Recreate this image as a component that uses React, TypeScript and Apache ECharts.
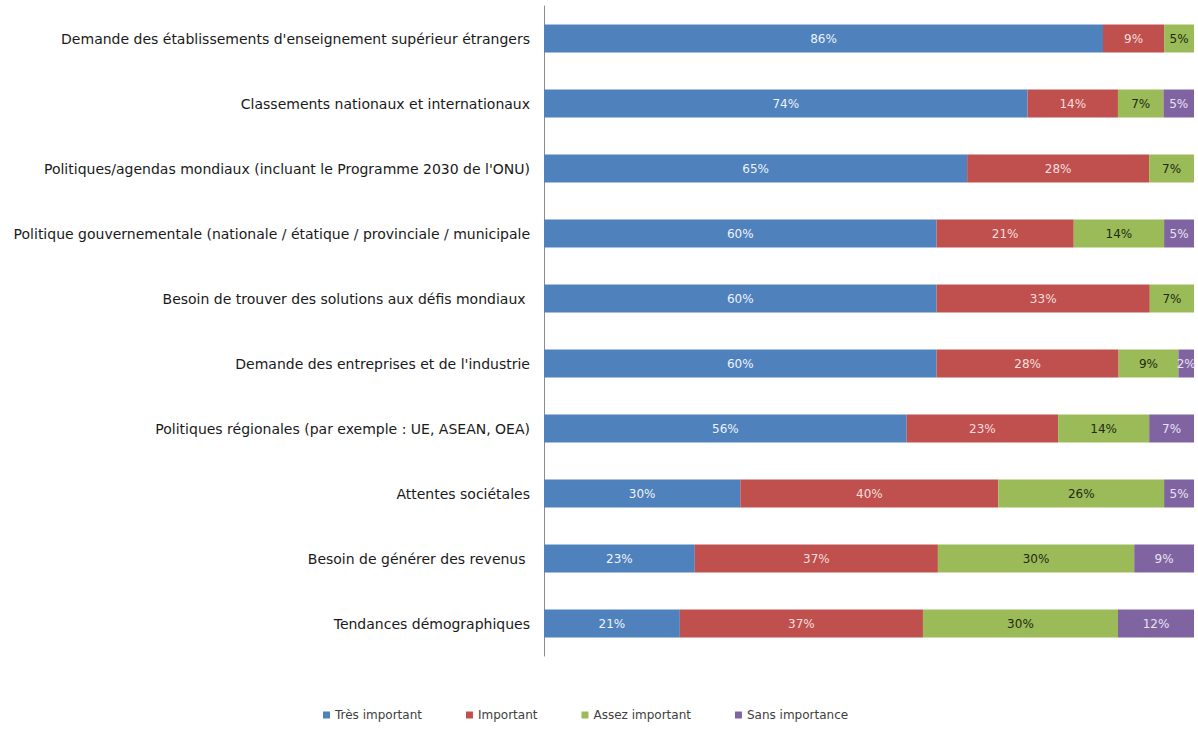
import React, { useEffect, useRef } from "react";
import * as echarts from "echarts";

const categories = [
  "Demande des établissements d'enseignement supérieur étrangers",
  "Classements nationaux et internationaux",
  "Politiques/agendas mondiaux (incluant le Programme 2030 de l'ONU)",
  "Politique gouvernementale (nationale / étatique / provinciale / municipale",
  "Besoin de trouver des solutions aux défis mondiaux ",
  "Demande des entreprises et de l'industrie",
  "Politiques régionales (par exemple : UE, ASEAN, OEA)",
  "Attentes sociétales",
  "Besoin de générer des revenus ",
  "Tendances démographiques",
];

const tresImportant = [86.0, 74.4, 65.1, 60.4, 60.4, 60.4, 55.8, 30.2, 23.2, 20.9];
const important = [9.4, 13.9, 28.0, 21.1, 32.8, 28.0, 23.3, 39.7, 37.4, 37.4];
const assezImportant = [4.6, 7.0, 6.9, 13.9, 6.8, 9.2, 14.0, 25.5, 30.2, 30.0];
const sansImportance = [0, 4.7, 0, 4.6, 0, 2.4, 6.9, 4.6, 9.2, 11.7];

const seriesNames = ["Très important", "Important", "Assez important", "Sans importance"];
const seriesColors = ["#4F81BD", "#C0504D", "#9BBB59", "#8064A2"];
const labelColors = ["#eef3fb", "#f6dede", "#1f2a10", "#e8e2f2"];

export default function App() {
  const ref = useRef<HTMLDivElement>(null);
  useEffect(() => {
    if (!ref.current) return;
    const chart = echarts.init(ref.current, undefined, { renderer: "svg" });
    const datas = [tresImportant, important, assezImportant, sansImportance];
    chart.setOption({
      animation: false,
      backgroundColor: "#ffffff",
      grid: { left: 544, right: 4, top: 6, height: 650, containLabel: false },
      legend: {
        bottom: 6,
        left: 318,
        icon: "rect",
        itemWidth: 7,
        itemHeight: 7,
        itemGap: 44,
        textStyle: { fontFamily: "DejaVu Sans", fontSize: 12, color: "#404040" },
        data: seriesNames,
      },
      xAxis: {
        type: "value",
        min: 0,
        max: 100,
        show: false,
      },
      yAxis: {
        type: "category",
        inverse: true,
        data: categories,
        axisTick: { show: false },
        axisLine: { show: true, lineStyle: { color: "#8c8c8c", width: 1 } },
        axisLabel: {
          margin: 14,
          fontFamily: "DejaVu Sans",
          fontSize: 14,
          color: "#1a1a1a",
        },
      },
      series: datas.map((d, i) => ({
        name: seriesNames[i],
        type: "bar",
        stack: "total",
        barWidth: 28,
        data: d,
        itemStyle: { color: seriesColors[i] },
        label: {
          show: true,
          position: "inside",
          fontFamily: "DejaVu Sans",
          fontSize: 12,
          color: labelColors[i],
          formatter: (p: any) => (p.value > 0 ? Math.round(p.value) + "%" : ""),
        },
      })),
    });
    return () => chart.dispose();
  }, []);
  return (
    <div
      ref={ref}
      style={{ position: "fixed", left: 0, top: 0, width: 1198, height: 732, background: "#fff" }}
    />
  );
}
